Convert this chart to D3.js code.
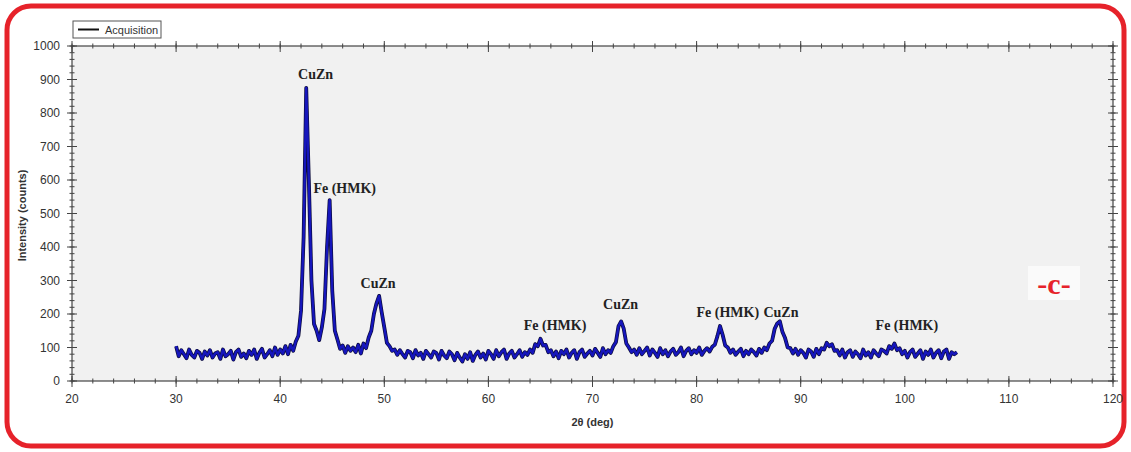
<!DOCTYPE html>
<html><head><meta charset="utf-8">
<script src="https://cdn.jsdelivr.net/npm/d3@7"></script>
<style>body{margin:0;background:#fff}svg{display:block}</style>
</head><body>
<script>
// ---- data ----
const startAngle = 30, stepAngle = 0.25;
const intensity = [
104,74,92,80, 68,94,78,70, 90,84,66,88, 76,92,70,82, 86,66,94,74,
80,90,64,86, 94,72,82,68, 90,78,94,66, 84,96,70,80, 92,74,100,78,
94,82,104,80, 108,90,118,135, 210,430,875,600, 300,170,150,122, 160,215,400,540,
270,150,124,96, 106,84,104,90, 100,86,108,82, 112,98,130,150, 200,232,254,205,
160,114,104,90, 94,78,92,80, 70,90,86,68, 92,76,84,66, 90,80,70,88,
84,64,90,76, 68,88,80,62, 84,70,58,80, 66,86,60,78, 88,70,82,64,
90,80,66,92, 74,86,94,66, 82,90,70,80, 92,72,86,78, 94,84,110,104,
126,106,108,86, 92,74,88,68, 90,80,94,70, 84,92,66,86, 94,72,82,90,
76,96,84,72, 98,80,92,84, 104,116,164,178, 156,112,100,86, 94,78,98,80,
90,100,76,94, 84,72,98,80, 92,74,88,96, 78,86,100,74, 90,98,80,92,
84,100,78,90, 98,88,102,108, 134,164,138,106, 100,84,94,78, 88,96,74,90,
80,94,86,76, 96,84,100,92, 112,120,156,172, 178,146,128,100, 98,82,96,78,
92,84,70,94, 88,72,96,80, 98,94,114,104, 110,90,92,76, 94,70,86,92,
72,88,80,68, 94,76,86,70, 92,82,74,94, 90,82,104,96, 112,92,98,80,
90,70,86,94, 72,82,92,66, 88,78,94,70, 84,92,68,88, 94,66,86,80,
86
];
const peakLabels = ["CuZn","Fe (HMK)","CuZn","Fe (HMK)","CuZn","Fe (HMK)","CuZn","Fe (HMK)"];
const labelAngle = [43.4, 46.2, 49.4, 66.4, 72.7, 83.0, 88.1, 100.2];
const labelLevel = [901, 561, 278, 152, 215, 191, 191, 152];
const xTicks = [20,30,40,50,60,70,80,90,100,110,120];
const yTicks = [0,100,200,300,400,500,600,700,800,900,1000];
const seriesName = "Acquisition";
const xTitle = "2θ (deg)", yTitle = "Intensity (counts)", panelTag = "-c-";

const data = intensity.map((v,i)=>({x:startAngle+i*stepAngle, y:v}));

// ---- layout ----
const W=1131,H=452;
const m={l:72,r:1113,t:46,b:381};
const svg=d3.select("body").append("svg").attr("width",W).attr("height",H);
const x=d3.scaleLinear().domain([20,120]).range([m.l,m.r]);
const y=d3.scaleLinear().domain([0,1000]).range([m.b,m.t]);

// red rounded frame
svg.append("rect").attr("x",7).attr("y",6).attr("width",W-14).attr("height",H-12)
  .attr("rx",24).attr("fill","#fff").attr("stroke","#e6222a").attr("stroke-width",5);

// plot bg
svg.append("rect").attr("x",m.l).attr("y",m.t).attr("width",m.r-m.l).attr("height",m.b-m.t)
  .attr("fill","#f1f1f1");

const minorX=d3.range(20,120.01,2), minorY=d3.range(0,1000.01,20);
const axCol="#444";
function ticksX(yy){
  const g=svg.append("g");
  g.selectAll(".mn").data(minorX).join("line").attr("x1",d=>x(d)).attr("x2",d=>x(d))
   .attr("y1",yy-2.5).attr("y2",yy+2.5).attr("stroke",axCol).attr("stroke-width",1);
  g.selectAll(".mj").data(xTicks).join("line").attr("x1",d=>x(d)).attr("x2",d=>x(d))
   .attr("y1",yy-5).attr("y2",yy+6).attr("stroke",axCol).attr("stroke-width",1);
}
function ticksY(xx){
  const g=svg.append("g");
  g.selectAll(".mn").data(minorY).join("line").attr("y1",d=>y(d)).attr("y2",d=>y(d))
   .attr("x1",xx-2.5).attr("x2",xx+2.5).attr("stroke",axCol).attr("stroke-width",1);
  g.selectAll(".mj").data(yTicks).join("line").attr("y1",d=>y(d)).attr("y2",d=>y(d))
   .attr("x1",xx-5).attr("x2",xx+5).attr("stroke",axCol).attr("stroke-width",1);
}
svg.append("rect").attr("x",m.l).attr("y",m.t).attr("width",m.r-m.l).attr("height",m.b-m.t)
  .attr("fill","none").attr("stroke",axCol).attr("stroke-width",1.2);
ticksX(m.b); ticksX(m.t); ticksY(m.l); ticksY(m.r);

// tick labels
svg.append("g").selectAll("text").data(xTicks).join("text")
  .attr("x",d=>x(d)).attr("y",m.b+22).attr("text-anchor","middle")
  .attr("font-family","Liberation Sans, Arial, sans-serif").attr("font-size",12).attr("fill","#333")
  .text(d=>d);
svg.append("g").selectAll("text").data(yTicks).join("text")
  .attr("x",m.l-12).attr("y",d=>y(d)+4).attr("text-anchor","end")
  .attr("font-family","Liberation Sans, Arial, sans-serif").attr("font-size",12).attr("fill","#333")
  .text(d=>d);

// axis titles
svg.append("text").attr("x",x(70)).attr("y",m.b+45).attr("text-anchor","middle")
  .attr("font-family","Liberation Sans, Arial, sans-serif").attr("font-size",11).attr("font-weight","bold").attr("fill","#333")
  .text(xTitle);
svg.append("text").attr("transform",`translate(26,${(m.t+m.b)/2+2}) rotate(-90)`).attr("text-anchor","middle")
  .attr("font-family","Liberation Sans, Arial, sans-serif").attr("font-size",11).attr("font-weight","bold").attr("fill","#333")
  .text(yTitle);

// data line
const line=d3.line().x(d=>x(d.x)).y(d=>y(d.y));
svg.append("path").datum(data).attr("d",line).attr("fill","none")
  .attr("stroke","#0c0c3c").attr("stroke-width",3.8).attr("stroke-linejoin","round");
svg.append("path").datum(data).attr("d",line).attr("fill","none")
  .attr("stroke","#1616bc").attr("stroke-width",2.4).attr("stroke-linejoin","round");

// peak labels
svg.append("g").selectAll("text").data(peakLabels).join("text")
  .attr("x",(d,i)=>x(labelAngle[i])).attr("y",(d,i)=>y(labelLevel[i])).attr("text-anchor","middle")
  .attr("font-family","Liberation Serif, Times New Roman, serif").attr("font-size",14)
  .attr("font-weight","bold").attr("fill","#222").text(d=>d);

// legend
const lg=svg.append("g");
lg.append("rect").attr("x",73).attr("y",21).attr("width",88).attr("height",17)
  .attr("fill","#fff").attr("stroke","#555").attr("stroke-width",1);
lg.append("line").attr("x1",78).attr("x2",99).attr("y1",29.5).attr("y2",29.5).attr("stroke","#111").attr("stroke-width",2);
lg.append("text").attr("x",105).attr("y",34).attr("font-family","Liberation Sans Narrow, Liberation Sans, Arial, sans-serif")
  .attr("font-size",11).attr("fill","#333").text(seriesName);

// panel tag
svg.append("rect").attr("x",1028).attr("y",266).attr("width",52).attr("height",34).attr("fill","#fafafa");
svg.append("text").attr("x",1054).attr("y",294).attr("text-anchor","middle")
  .attr("font-family","Liberation Serif, Times New Roman, serif").attr("font-size",30).attr("font-weight","bold")
  .attr("fill","#e6222a").text(panelTag);
</script>
</body></html>
